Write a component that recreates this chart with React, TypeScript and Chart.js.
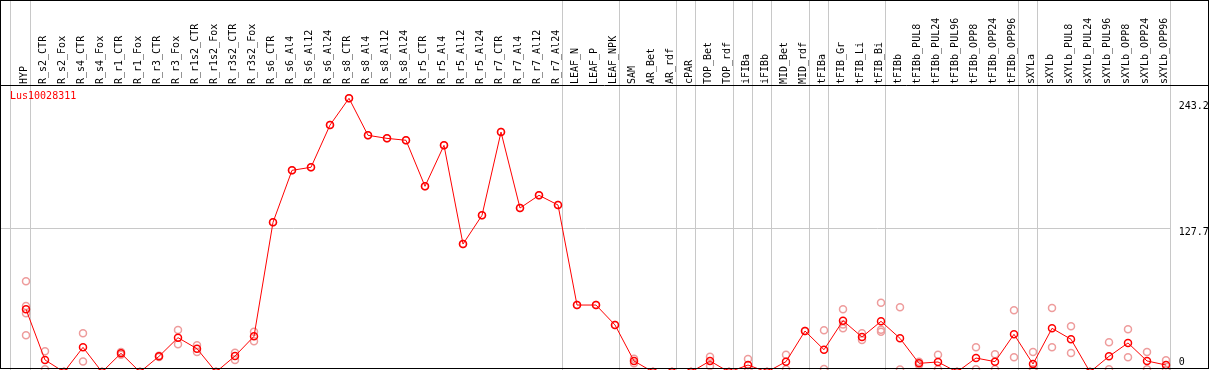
import React, { useEffect, useRef } from 'react';
import { Chart, registerables } from 'chart.js';

Chart.register(...registerables);

const seriesName = 'Lus10028311';

const categories = [
  'HYP', 'R_s2_CTR', 'R_s2_Fox', 'R_s4_CTR', 'R_s4_Fox', 'R_r1_CTR', 'R_r1_Fox', 'R_r3_CTR', 'R_r3_Fox',
  'R_r1s2_CTR', 'R_r1s2_Fox', 'R_r3s2_CTR', 'R_r3s2_Fox', 'R_s6_CTR', 'R_s6_Al4', 'R_s6_Al12', 'R_s6_Al24',
  'R_s8_CTR', 'R_s8_Al4', 'R_s8_Al12', 'R_s8_Al24', 'R_r5_CTR', 'R_r5_Al4', 'R_r5_Al12', 'R_r5_Al24',
  'R_r7_CTR', 'R_r7_Al4', 'R_r7_Al12', 'R_r7_Al24', 'LEAF_N', 'LEAF_P', 'LEAF_NPK', 'SAM', 'AR_Bet', 'AR_rdf',
  'cPAR', 'TOP_Bet', 'TOP_rdf', 'iFIBa', 'iFIBb', 'MID_Bet', 'MID_rdf', 'tFIBa', 'tFIB_Gr', 'tFIB_Li', 'tFIB_Bi',
  'tFIBb', 'tFIBb_PUL8', 'tFIBb_PUL24', 'tFIBb_PUL96', 'tFIBb_OPP8', 'tFIBb_OPP24', 'tFIBb_OPP96', 'sXYLa',
  'sXYLb', 'sXYLb_PUL8', 'sXYLb_PUL24', 'sXYLb_PUL96', 'sXYLb_OPP8', 'sXYLb_OPP24', 'sXYLb_OPP96',
];

const means = [
  55.7, 10.7, 0, 21.9, 0, 16.6, 0, 13.9, 30.5, 20.7, 0, 14.2, 31.7,
  133.0, 179.2, 181.9, 219.4, 243.2, 210.3, 207.6, 205.9, 165.0, 201.4, 113.7, 139.2, 213.2, 145.7, 157.0, 148.4,
  59.5, 59.5, 41.8,
  9.8, 0, 0, 0, 9.8, 0, 6.2, 0,
  9.2, 36.4, 19.8, 45.6, 31.1, 45.0, 29.9, 7.7, 8.9, 0, 12.4, 9.2, 33.5,
  7.1, 38.8, 29.1, 0, 13.9, 25.8, 9.8, 6.2,
];

const replicates = [
  [80.6, 58.6, 52.2, 32.6], [18.4, 2.4], [0, 0], [34.5, 9.3], [0, 0], [17.8, 15.4], [0, 0], [14.5, 13.3],
  [37.3, 24.6], [23.7, 17.8], [0, 0], [17.1, 10.7], [35.8, 27.4],
  [133.0], [179.2], [181.9], [219.4], [243.2], [210.3], [207.6], [205.9], [165.0], [201.4], [113.7], [139.2],
  [213.2], [145.7], [157.0], [148.4],
  [59.5], [59.5], [41.8],
  [11.8, 7.7], [0, 0], [0, 0], [0, 0], [13.6, 5.3], [0, 0], [11.6, 0.8], [0, 0],
  [15.4, 2.4], [36.4], [37.0, 2.6], [55.7, 38.8, 42.3], [34.4, 28.4], [61.6, 35.8, 37.6], [57.5, 2.3],
  [9.2, 6.2], [15.4, 2.4], [0, 0], [21.9, 2.4], [15.7, 2.4], [54.8, 13.1],
  [17.8, 2.4, 1.1], [56.9, 21.9], [40.6, 16.9], [0, 0], [26.4, 2.4], [37.9, 13.1], [17.8, 2.4], [10.4, 2.0],
];

const yTickValues = [0, 127.7, 243.2];

// index of the last category of each group (group separators)
const groupEnds = [0, 28, 31, 34, 35, 37, 38, 39, 41, 42, 45, 52, 53, 60];

const FONT_FAMILY = '"DejaVu Sans Mono", monospace';
const RED = '#ff0000';
const PINK = '#ee9c9c';
const GRID = '#c8c8c8';

export default function App() {
  const canvasRef = useRef<HTMLCanvasElement>(null);

  useEffect(() => {
    const canvas = canvasRef.current;
    if (!canvas) return;

    const meanPoints = means.map((v, i) => ({ x: i, y: v }));
    const repPoints: { x: number; y: number }[] = [];
    replicates.forEach((arr, i) => arr.forEach((v) => repPoints.push({ x: i, y: v })));

    const decorPlugin = {
      id: 'decor',
      beforeDatasetsDraw(chart: any) {
        const { ctx, chartArea } = chart;
        const xs = chart.scales.x;
        ctx.save();
        ctx.strokeStyle = GRID;
        ctx.lineWidth = 1;
        const bounds = [-0.8, ...groupEnds.map((i) => i + 0.23)];
        for (const b of bounds) {
          const px = Math.floor(xs.getPixelForValue(b)) + 0.5;
          ctx.beginPath();
          ctx.moveTo(px, 0);
          ctx.lineTo(px, chartArea.bottom);
          ctx.stroke();
        }
        ctx.restore();
      },
      afterDraw(chart: any) {
        const { ctx, chartArea } = chart;
        const ys = chart.scales.y;
        ctx.save();
        // frame and header separator
        ctx.strokeStyle = '#000';
        ctx.lineWidth = 1;
        ctx.strokeRect(0.5, 0.5, 1208, 368);
        ctx.beginPath();
        ctx.moveTo(0, 85.5);
        ctx.lineTo(chart.width, 85.5);
        ctx.stroke();
        // y tick labels
        ctx.font = `10px ${FONT_FAMILY}`;
        ctx.fillStyle = '#000';
        ctx.textAlign = 'left';
        ctx.textBaseline = 'middle';
        for (const v of yTickValues) {
          let py = ys.getPixelForValue(v) + 4.4;
          py = Math.max(chartArea.top + 20.3, Math.min(chartArea.bottom - 9.7, py));
          ctx.fillText(v === 0 ? '0' : v.toFixed(1), chartArea.right + 8.7, py);
        }
        // series name
        ctx.fillStyle = RED;
        ctx.textBaseline = 'alphabetic';
        ctx.fillText(seriesName, 10, 99.3);
        ctx.restore();
      },
    };

    const chart = new Chart(canvas, {
      type: 'line',
      data: {
        datasets: [
          {
            label: seriesName,
            data: meanPoints,
            borderColor: RED,
            borderWidth: 1,
            backgroundColor: 'rgba(0,0,0,0)',
            pointStyle: 'circle',
            pointRadius: 3.5,
            pointBorderWidth: 1.5,
            pointBorderColor: RED,
            pointBackgroundColor: 'rgba(0,0,0,0)',
            tension: 0,
            clip: false,
          },
          {
            label: 'replicates',
            data: repPoints,
            showLine: false,
            borderColor: PINK,
            backgroundColor: 'rgba(0,0,0,0)',
            pointStyle: 'circle',
            pointRadius: 3.5,
            pointBorderWidth: 1.5,
            pointBorderColor: PINK,
            pointBackgroundColor: 'rgba(0,0,0,0)',
            clip: false,
          },
        ],
      },
      options: {
        responsive: false,
        animation: false,
        events: [],
        layout: { autoPadding: false, padding: { left: 1, right: 0, top: 0, bottom: 2 } },
        plugins: { legend: { display: false }, tooltip: { enabled: false }, title: { display: false } },
        scales: {
          x: {
            type: 'linear',
            position: 'top',
            min: -1.3158,
            max: 60.2105,
            afterBuildTicks: (s: any) => {
              s.ticks = categories.map((_, i) => ({ value: i }));
            },
            afterFit: (s: any) => {
              s.height = 86;
              s.paddingLeft = 0;
              s.paddingRight = 0;
            },
            ticks: {
              autoSkip: false,
              minRotation: 90,
              maxRotation: 90,
              padding: 2,
              labelOffset: 10,
              color: '#000',
              font: { family: FONT_FAMILY, size: 10 },
              callback: (v: any) => categories[v] ?? '',
            },
            grid: { display: false, drawTicks: false },
            border: { display: false },
          },
          y: {
            type: 'linear',
            position: 'right',
            min: 0,
            max: 254.13,
            afterBuildTicks: (s: any) => {
              s.ticks = yTickValues.map((v) => ({ value: v }));
            },
            afterFit: (s: any) => {
              s.width = 39;
              s.paddingTop = 0;
              s.paddingBottom = 0;
            },
            ticks: { display: false },
            grid: {
              drawTicks: false,
              lineWidth: 1,
              color: (c: any) => (c.tick && c.tick.value === 127.7 ? GRID : 'rgba(0,0,0,0)'),
            },
            border: { display: false },
          },
        },
      },
      plugins: [decorPlugin],
    });

    return () => chart.destroy();
  }, []);

  return (
    <div style={{ position: 'fixed', left: 0, top: 0, width: 1209, height: 370, overflow: 'hidden', background: '#fff' }}>
      <canvas ref={canvasRef} width={1209} height={374} style={{ display: 'block' }} />
    </div>
  );
}
